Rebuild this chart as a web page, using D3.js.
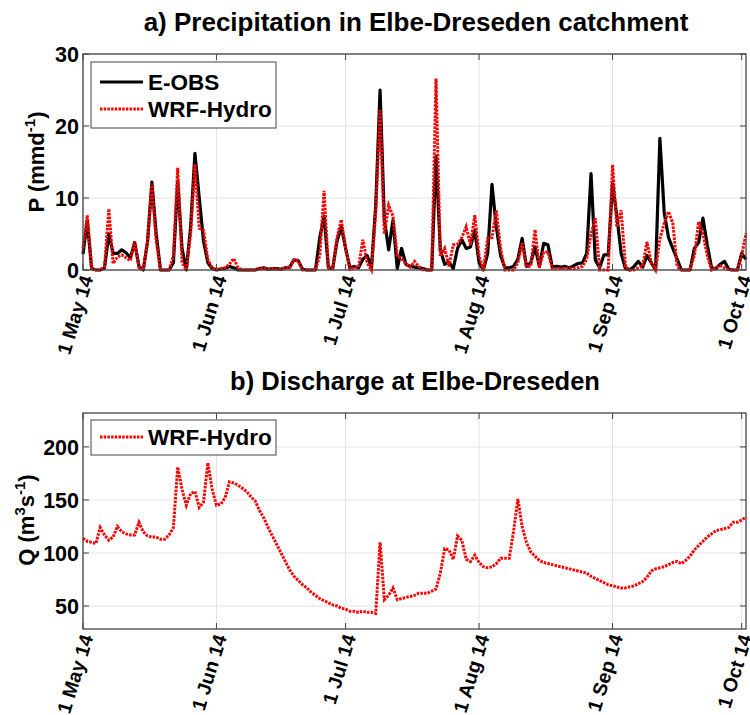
<!DOCTYPE html>
<html>
<head>
<meta charset="utf-8">
<script src="https://cdn.jsdelivr.net/npm/d3@7"></script>
<style>
  body { margin: 0; background: #fff; }
  svg { font-family: "Liberation Sans", Arial, sans-serif; font-weight: bold; }
</style>
</head>
<body>
<div id="canvas"></div>
<script>
// daily values, 1 May 2014 .. 2 Oct 2014
const startDay = "2014-05-01";
const eobsP = [
  2.2, 6.8, 0.2, 0, 0, 0.3, 5.0, 2.3, 2.3, 2.8,
  2.4, 1.7, 3.8, 0.5, 0, 4, 12.2, 5, 0, 0,
  0, 1, 12.3, 3, 0, 6, 16.2, 10, 4, 1,
  0.2, 0, 0.1, 0.2, 0.5, 0.3, 0, 0, 0, 0,
  0, 0.2, 0.3, 0.1, 0.2, 0.2, 0.1, 0.3, 0.4, 1.4,
  1.3, 0.1, 0, 0, 0, 4.5, 7.5, 0.3, 0.2, 4,
  6, 3, 0.3, 0.5, 0.3, 1.5, 2, 0.3, 9, 25,
  7, 2.8, 6.9, 0.2, 3, 0.8, 0.5, 0.4, 0.3, 0.2,
  0, 0, 15.8, 2.8, 0.8, 1.1, 0.2, 3, 4.2, 3,
  3.2, 5.5, 1, 0, 2.3, 11.9, 6, 2, 0.3, 0.3,
  0.5, 1.5, 4.4, 0.5, 1, 3.2, 0.5, 3.7, 3.5, 0.4,
  0.5, 0.4, 0.5, 0.3, 0.6, 0.9, 1, 2.3, 13.4, 1.4,
  0.3, 2.1, 2.1, 12, 7.5, 2.3, 0.2, 0, 0.5, 1.2,
  0.4, 2, 1, 0, 18.3, 8, 4.5, 3, 1.5, 0,
  0, 0, 3, 3.8, 7.2, 3.5, 0.3, 0.2, 0.8, 1.2,
  0.1, 0, 0, 2.3, 1.5
];
const wrfP = [
  3, 7.6, 0.3, 0, 0, 0.5, 8.5, 0.9, 1.8, 2.1,
  1.7, 1.3, 4, 0.3, 0, 4, 12, 4, 0, 0,
  0, 2, 14.2, 1, 0, 5, 14.7, 5.8, 5.5, 1.5,
  0.3, 0.1, 0.2, 0.3, 0.8, 1.6, 0.3, 0, 0, 0,
  0, 0.3, 0.2, 0.1, 0.2, 0.1, 0.1, 0.3, 0.3, 1.4,
  1.2, 0, 0, 0, 0, 2, 11, 0.3, 0.2, 4.5,
  7, 3, 0.1, 0.3, 0.4, 4.2, 1, 0, 8, 22.2,
  5, 9, 7.5, 2, 1.6, 0.8, 0.4, 1.2, 0.5, 0,
  0, 0, 26.6, 1.9, 3, 0.5, 3.5, 3.6, 4.5, 6,
  3.5, 7.6, 2, 0, 4.4, 4.5, 8.3, 3, 0, 0,
  0, 1, 3.7, 0.5, 0.5, 5.6, 0.3, 2.5, 2.5, 0.2,
  0.2, 0.2, 0.2, 0.2, 0.2, 0.3, 0.5, 1.5, 5, 7.2,
  0, 0, 0, 14.6, 6, 8.3, 0.5, 0, 0, 0.3,
  0.5, 3.9, 1, 0, 4.3, 6.5, 8.1, 6.5, 0.5, 0,
  0, 0, 2, 6.7, 5, 2, 0, 0.3, 0.6, 0.3,
  0, 0, 0, 2, 5.1
];
const wrfQ = [
  114, 111, 110, 109, 124, 117, 112, 115, 125, 120,
  118, 117, 117, 129, 120, 116, 115, 115, 113, 113,
  117, 124, 181, 160, 145, 156, 158, 143, 148, 185,
  160, 145, 146, 152, 167, 166, 164, 161, 158, 153,
  149, 140, 133, 124, 116, 108, 100, 92, 84, 78,
  74, 70, 67, 63, 60, 57, 55, 53, 51, 50,
  48, 47, 45, 45, 44, 45, 44, 44, 43, 110,
  56, 60, 67, 56, 57, 58, 59, 60, 62, 62,
  62, 64, 66, 81, 104, 103, 94, 116, 112, 94,
  92, 98, 91, 87, 86, 87, 90, 95, 95, 95,
  120, 151, 125, 110, 101, 97, 93, 91, 90, 89,
  88, 87, 86, 85, 84, 83, 82, 81, 78, 76,
  74, 72, 70, 69, 68, 67, 67, 68, 69, 71,
  73, 77, 83, 85, 86, 87, 89, 91, 92, 90,
  93, 97, 103, 107, 111, 115, 118, 121, 122, 123,
  124, 129, 129, 131, 134
];
const pTicks = [0, 10, 20, 30];
const qTicks = [50, 100, 150, 200];
const dateTicks = ["2014-05-01", "2014-06-01", "2014-07-01", "2014-08-01", "2014-09-01", "2014-10-01"];

const parse = d3.utcParse("%Y-%m-%d");
const t0 = parse(startDay);
const dates = eobsP.map((d, i) => d3.utcDay.offset(t0, i));

const width = 750;
const height = 715;
const left = 83, right = 746;

const svg = d3.select("#canvas").append("svg")
    .attr("width", width)
    .attr("height", height);

const x = d3.scaleUtc()
    .domain([t0, d3.utcDay.offset(t0, 154)])
    .range([left, right]);
const fmt = d3.utcFormat("%-d %b %y");

function panel(top, bottom, y, yTicks) {
    const g = svg.append("g");
    // grid
    g.selectAll(".gx").data(dateTicks.map(parse)).enter().append("line")
        .attr("x1", d => x(d)).attr("x2", d => x(d))
        .attr("y1", top).attr("y2", bottom)
        .attr("stroke", "#e3e3e3").attr("stroke-width", 1);
    g.selectAll(".gy").data(yTicks).enter().append("line")
        .attr("x1", left).attr("x2", right)
        .attr("y1", d => y(d)).attr("y2", d => y(d))
        .attr("stroke", "#e3e3e3").attr("stroke-width", 1);
    // ticks (inside, all four sides)
    const tk = 6;
    dateTicks.map(parse).forEach(d => {
        g.append("line").attr("x1", x(d)).attr("x2", x(d)).attr("y1", bottom).attr("y2", bottom - tk).attr("stroke", "#444");
        g.append("line").attr("x1", x(d)).attr("x2", x(d)).attr("y1", top).attr("y2", top + tk).attr("stroke", "#444");
    });
    yTicks.forEach(v => {
        g.append("line").attr("x1", left).attr("x2", left + tk).attr("y1", y(v)).attr("y2", y(v)).attr("stroke", "#444");
        g.append("line").attr("x1", right).attr("x2", right - tk).attr("y1", y(v)).attr("y2", y(v)).attr("stroke", "#444");
    });
    g.selectAll(".yl").data(yTicks).enter().append("text")
        .attr("x", left - 4).attr("y", d => y(d))
        .attr("dy", "0.36em")
        .attr("text-anchor", "end")
        .style("font-size", "21.5px")
        .text(d => d);
    g.selectAll(".xl").data(dateTicks.map(parse)).enter().append("text")
        .attr("transform", d => `translate(${x(d) + 4},${bottom + 6}) rotate(-73)`)
        .attr("dy", "0.35em")
        .attr("text-anchor", "end")
        .style("font-size", "19.5px")
        .text(d => fmt(d));
    return g;
}

function box(g, top, bottom) {
    g.append("rect")
        .attr("x", left).attr("y", top)
        .attr("width", right - left).attr("height", bottom - top)
        .attr("fill", "none").attr("stroke", "#444").attr("stroke-width", 1.3);
}

// ---- a) precipitation
const topA = 54, botA = 270;
const yP = d3.scaleLinear().domain([0, 30]).range([botA, topA]);
const gA = panel(topA, botA, yP, pTicks);

const lineP = d3.line().x((d, i) => x(dates[i])).y(d => yP(d));
gA.append("path").datum(eobsP)
    .attr("d", lineP).attr("fill", "none")
    .attr("stroke", "#000").attr("stroke-width", 3.2).attr("stroke-linejoin", "round");
gA.append("path").datum(wrfP)
    .attr("d", lineP).attr("fill", "none")
    .attr("stroke", "#f00").attr("stroke-width", 3).attr("stroke-dasharray", "2.5,1.2");
box(gA, topA, botA);

svg.append("text")
    .attr("x", 416).attr("y", 31)
    .attr("text-anchor", "middle")
    .style("font-size", "26px")
    .text("a) Precipitation in Elbe-Dreseden catchment");

svg.append("text")
    .attr("transform", "translate(44,162) rotate(-90)")
    .attr("text-anchor", "middle")
    .style("font-size", "22px")
    .text("P (mmd")
    .call(t => {
        t.append("tspan").attr("dy", -9).style("font-size", "15px").text("-1");
        t.append("tspan").attr("dy", 9).text(")");
    });

// legend a
const legA = svg.append("g");
legA.append("rect").attr("x", 91).attr("y", 62).attr("width", 185).attr("height", 66)
    .attr("fill", "#fff").attr("stroke", "#444").attr("stroke-width", 1);
legA.append("line").attr("x1", 100).attr("x2", 143).attr("y1", 82).attr("y2", 82)
    .attr("stroke", "#000").attr("stroke-width", 3.2);
legA.append("line").attr("x1", 100).attr("x2", 143).attr("y1", 109).attr("y2", 109)
    .attr("stroke", "#f00").attr("stroke-width", 3).attr("stroke-dasharray", "2.5,1.2");
legA.append("text").attr("x", 148).attr("y", 82).attr("dy", "0.36em").style("font-size", "22.5px").text("E-OBS");
legA.append("text").attr("x", 148).attr("y", 109).attr("dy", "0.36em").style("font-size", "22.5px").text("WRF-Hydro");

// ---- b) discharge
const topB = 413, botB = 629;
const yQ = d3.scaleLinear().domain([28.3, 232]).range([botB, topB]);
const gB = panel(topB, botB, yQ, qTicks);

const lineQ = d3.line().x((d, i) => x(dates[i])).y(d => yQ(d));
gB.append("path").datum(wrfQ)
    .attr("d", lineQ).attr("fill", "none")
    .attr("stroke", "#f00").attr("stroke-width", 3).attr("stroke-dasharray", "2.5,1.2");
box(gB, topB, botB);

svg.append("text")
    .attr("x", 415).attr("y", 390)
    .attr("text-anchor", "middle")
    .style("font-size", "25.5px")
    .text("b) Discharge at Elbe-Dreseden");

svg.append("text")
    .attr("transform", "translate(34,520) rotate(-90)")
    .attr("text-anchor", "middle")
    .style("font-size", "22px")
    .text("Q (m")
    .call(t => {
        t.append("tspan").attr("dy", -9).style("font-size", "15px").text("3");
        t.append("tspan").attr("dy", 9).text("s");
        t.append("tspan").attr("dy", -9).style("font-size", "15px").text("-1");
        t.append("tspan").attr("dy", 9).text(")");
    });

const legB = svg.append("g");
legB.append("rect").attr("x", 91).attr("y", 420).attr("width", 185).attr("height", 35)
    .attr("fill", "#fff").attr("stroke", "#444").attr("stroke-width", 1);
legB.append("line").attr("x1", 100).attr("x2", 143).attr("y1", 437).attr("y2", 437)
    .attr("stroke", "#f00").attr("stroke-width", 3).attr("stroke-dasharray", "2.5,1.2");
legB.append("text").attr("x", 148).attr("y", 437).attr("dy", "0.36em").style("font-size", "22.5px").text("WRF-Hydro");
</script>
</body>
</html>
